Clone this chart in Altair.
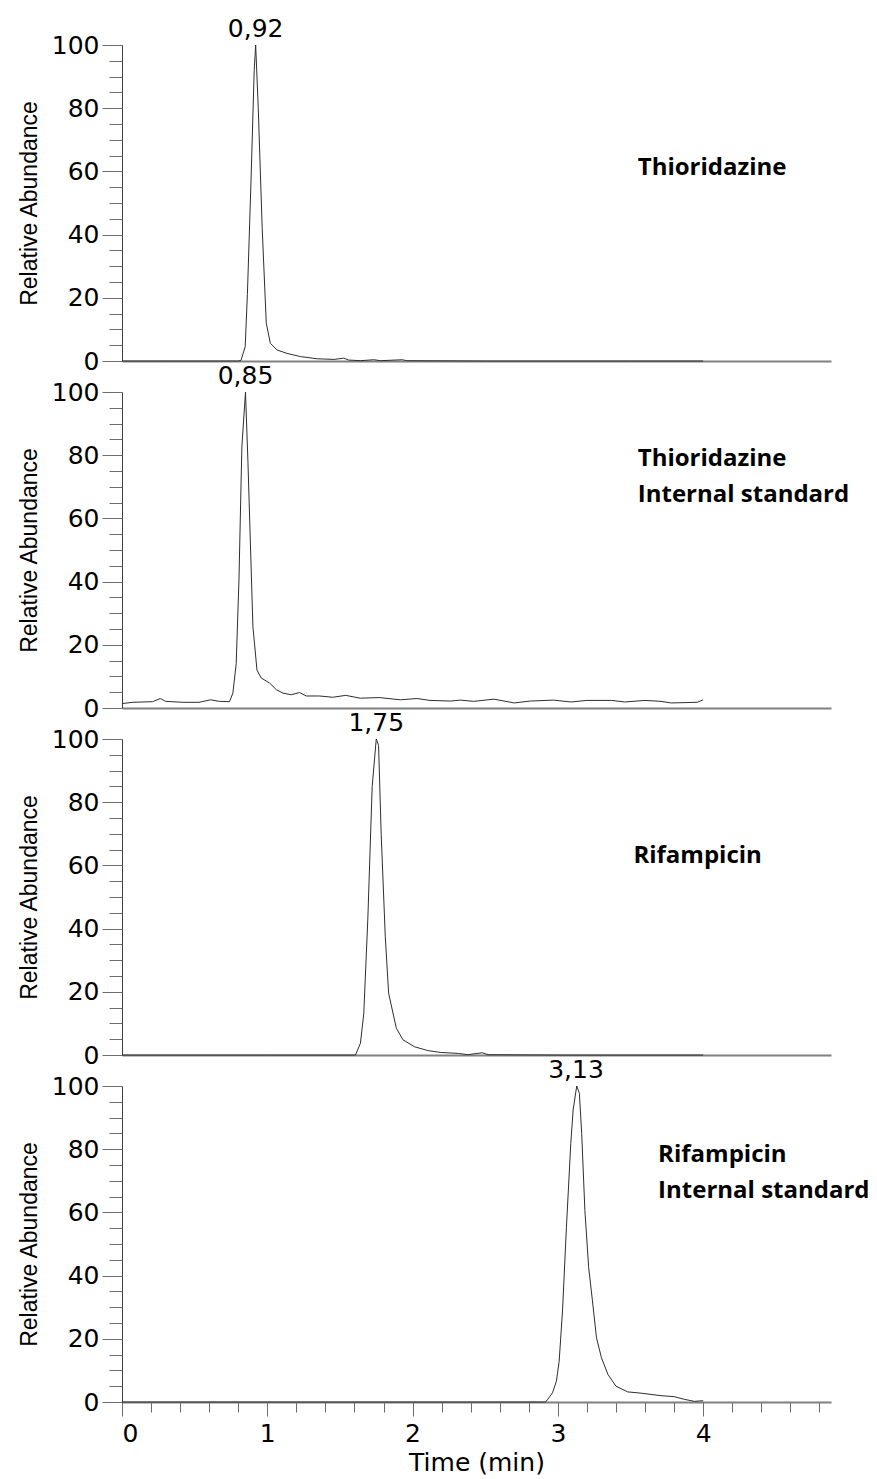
import altair as alt
import pandas as pd

# ---- data (time in min, relative abundance in %) ----
T1 = [0.0, 0.3, 0.6, 0.80, 0.819, 0.848, 0.863, 0.888, 0.910, 0.92, 0.938, 0.965, 0.993,
      1.021, 1.067, 1.136, 1.228, 1.343, 1.46, 1.526, 1.56, 1.64, 1.733, 1.78, 1.93,
      1.96, 2.5, 3.0, 3.5, 4.0]
V1 = [0, 0, 0, 0, 0.2, 4.5, 21, 57, 92, 100, 80, 42, 12, 5.6, 3.5, 2.4, 1.4, 0.7, 0.5,
      0.9, 0.3, 0.1, 0.4, 0.1, 0.4, 0.1, 0, 0, 0, 0]

T2 = [0.0, 0.075, 0.21, 0.264, 0.30, 0.42, 0.53, 0.61, 0.67, 0.74, 0.763, 0.786, 0.805,
      0.825, 0.85, 0.867, 0.901, 0.929, 0.958, 1.016, 1.062, 1.108, 1.165, 1.222, 1.268,
      1.36, 1.45, 1.54, 1.64, 1.77, 1.917, 2.03, 2.12, 2.26, 2.33, 2.42, 2.56, 2.70, 2.81,
      2.97, 3.09, 3.20, 3.37, 3.46, 3.60, 3.71, 3.78, 3.96, 4.0]
V2 = [1.4, 1.8, 2.0, 3.0, 2.1, 1.8, 1.8, 2.6, 2.1, 2.0, 4.7, 14, 40.5, 82.6, 100, 77.7,
      25.8, 12, 9.5, 7.9, 5.8, 4.7, 4.2, 4.9, 3.8, 3.8, 3.4, 4.0, 3.1, 3.3, 2.6, 3.0, 2.4,
      2.2, 2.5, 2.1, 2.8, 1.6, 2.2, 2.5, 1.9, 2.4, 2.4, 1.9, 2.4, 2.1, 1.6, 1.8, 2.6]

T3 = [0.0, 1.0, 1.607, 1.641, 1.664, 1.692, 1.722, 1.75, 1.766, 1.784, 1.812, 1.835,
      1.888, 1.934, 2.014, 2.105, 2.195, 2.315, 2.38, 2.48, 2.52, 3.0, 4.0]
V3 = [0, 0, 0, 3.7, 13, 43, 85, 100, 98, 69.8, 37.6, 19.6, 8.5, 4.8, 2.6, 1.4, 0.8, 0.5,
      0.1, 0.7, 0.1, 0, 0]

T4 = [0.0, 1.0, 2.0, 2.915, 2.928, 2.963, 2.99, 3.009, 3.032, 3.059, 3.089, 3.105, 3.13,
      3.148, 3.164, 3.186, 3.212, 3.238, 3.266, 3.3, 3.345, 3.40, 3.48, 3.572, 3.71, 3.80,
      3.87, 3.94, 4.0]
V4 = [0, 0, 0, 0, 0.7, 2.9, 6.6, 12.9, 28.8, 55.3, 81.8, 92.4, 100, 97.7, 85, 60.6, 42.6,
      32, 20.3, 14, 8.7, 5.0, 3.2, 2.8, 2.0, 1.7, 0.85, 0.2, 0.4]

PEAK_T = [0.92, 0.85, 1.75, 3.125]
PEAK_LABELS = ["0,92", "0,85", "1,75", "3,13"]
NAMES = [["Thioridazine"], ["Thioridazine", "Internal standard"],
         ["Rifampicin"], ["Rifampicin", "Internal standard"]]
NAME_T = [3.55, 3.55, 3.52, 3.69]
NAME_V = [59.0, 76.6, 60.8, 75.9]

X_MINOR = [0, 0.2, 0.4, 0.6, 0.8, 1, 1.2, 1.4, 1.6, 1.8, 2, 2.2, 2.4, 2.6, 2.8, 3, 3.2,
           3.4, 3.6, 3.8, 4, 4.2, 4.4, 4.6, 4.8]
X_MAJOR = [0, 1, 2, 3, 4]
Y_MINOR = [0, 5, 10, 15, 20, 25, 30, 35, 40, 45, 50, 55, 60, 65, 70, 75, 80, 85, 90, 95, 100]
Y_MAJOR = [0, 20, 40, 60, 80, 100]

TRACES = [(T1, V1), (T2, V2), (T3, V3), (T4, V4)]

W = 709
H = 316
xscale = alt.Scale(domain=[0, 4.88], nice=False, zero=False)
yscale = alt.Scale(domain=[0, 100], nice=False)

LABEL_FONT = "DejaVu Sans"


def panel(i):
    t, v = TRACES[i]
    df = pd.DataFrame({"t": t, "v": v})
    last = i == 3

    if last:
        x_minor_axis = alt.Axis(values=X_MINOR, tickSize=10, labels=False, title=None,
                                domain=True, domainColor="#808080", domainWidth=2,
                                tickColor="#6e6e6e", tickWidth=1, grid=False, orient="bottom")
        x_major_axis = alt.Axis(values=X_MAJOR, tickSize=14, labels=True, title="Time (min)",
                                domain=False, tickColor="#6e6e6e", tickWidth=1, grid=False,
                                labelFont=LABEL_FONT, labelFontSize=25, labelColor="black",
                                labelPadding=5, titleFont="DejaVu Sans", titleFontSize=25,
                                titleFontWeight="normal", titleColor="black", titlePadding=4,
                                orient="bottom", format="d")
    else:
        x_minor_axis = alt.Axis(ticks=False, labels=False, title=None, domain=True,
                                domainColor="#808080", domainWidth=2, grid=False,
                                orient="bottom")
        x_major_axis = None

    y_minor_axis = alt.Axis(values=Y_MINOR, tickSize=13, labels=False, title=None,
                            domain=True, domainColor="#404040", domainWidth=1,
                            tickColor="#6e6e6e", tickWidth=1, grid=False, orient="left")
    y_major_axis = alt.Axis(values=Y_MAJOR, tickSize=20, labels=True,
                            title="Relative Abundance", domain=False,
                            tickColor="#6e6e6e", tickWidth=1, grid=False,
                            labelFont=LABEL_FONT, labelFontSize=25, labelColor="black",
                            labelPadding=3, titleFont="Liberation Sans", titleFontSize=23,
                            titleFontWeight="normal", titleColor="black", titlePadding=10,
                            orient="left")

    line = alt.Chart(df).mark_line(color="#2e2e2e", strokeWidth=1, interpolate="linear").encode(
        x=alt.X("t:Q", scale=xscale, axis=x_minor_axis),
        y=alt.Y("v:Q", scale=yscale, axis=y_minor_axis),
    )

    pk = pd.DataFrame({"t": [PEAK_T[i]], "v": [100], "lab": [PEAK_LABELS[i]]})
    if x_major_axis is not None:
        xenc = alt.X("t:Q", scale=xscale, axis=x_major_axis)
    else:
        xenc = alt.X("t:Q", scale=xscale, axis=None)
    peak = alt.Chart(pk).mark_text(font=LABEL_FONT, fontSize=25, color="black",
                                   baseline="alphabetic", align="center", dy=-8).encode(
        x=xenc,
        y=alt.Y("v:Q", scale=yscale, axis=y_major_axis),
        text="lab:N",
    )

    nm = pd.DataFrame({"t": [NAME_T[i]], "v": [NAME_V[i]], "name": [NAMES[i]]})
    name = alt.Chart(nm).mark_text(font="Open Sans", fontSize=24, fontWeight="bold",
                                   color="black", align="left", baseline="alphabetic",
                                   lineHeight=36).encode(
        x=alt.X("t:Q", scale=xscale, axis=None),
        y=alt.Y("v:Q", scale=yscale, axis=None),
        text="name",
    )

    return alt.layer(line, peak, name).resolve_axis(x="independent", y="independent").properties(
        width=W, height=H)


chart = alt.vconcat(*[panel(i) for i in range(4)], spacing=31, bounds="flush").properties(
    padding={"left": 18, "top": 17, "right": 5, "bottom": 5},
    background="white",
).configure_view(strokeWidth=0)

chart.save("out.html", embed_options={"renderer": "svg", "actions": False})
